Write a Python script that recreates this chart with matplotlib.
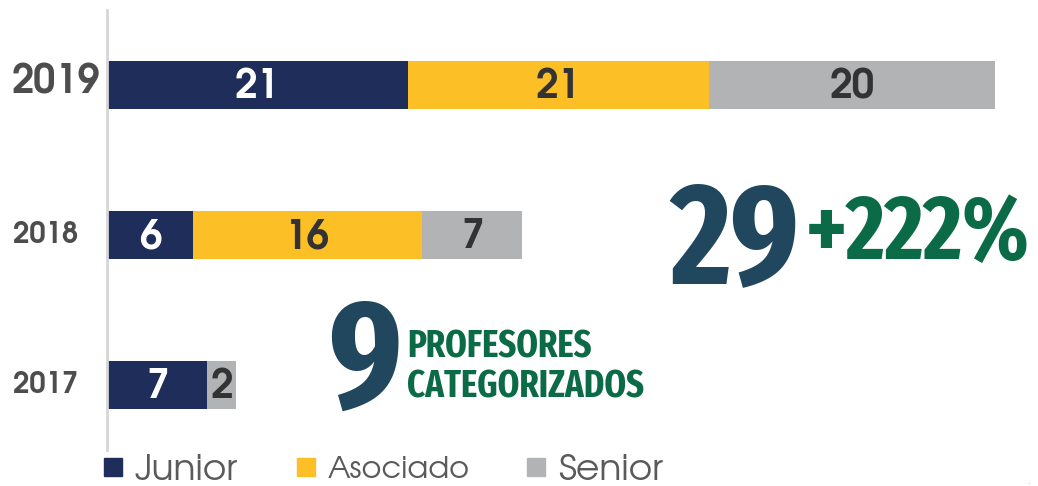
import matplotlib.pyplot as plt
import numpy as np

years = ["2017", "2018", "2019"]
junior = [7, 6, 21]
asociado = [0, 16, 21]
senior = [2, 7, 20]

colors = {"Junior": "#1f2d5a", "Asociado": "#fcbf26", "Senior": "#b1b3b4"}
label_colors = {"Junior": "white", "Asociado": "#333333", "Senior": "#333333"}

W, H = 1038, 486
fig = plt.figure(figsize=(W / 100, H / 100), dpi=100)
ax = fig.add_axes([107 / W, 36 / H, 931 / W, 440 / H])

y = np.arange(len(years))
left = np.zeros(len(years))
gothic = ["TeX Gyre Adventor", "DejaVu Sans"]
cond = ["Fira Sans Extra Condensed", "Roboto Condensed", "DejaVu Sans"]

for name, vals in [("Junior", junior), ("Asociado", asociado), ("Senior", senior)]:
    ax.barh(y, vals, left=left, height=0.32, color=colors[name], label=name)
    for yi, v, l in zip(y, vals, left):
        if v > 0:
            ax.text(l + v / 2, yi - 0.01, str(v), ha="center", va="center",
                    fontsize=29, fontweight="bold", family=gothic,
                    color=label_colors[name])
    left = left + np.array(vals)

ax.set_xlim(0, 65.0)
ax.set_ylim(-0.433, 2.5)
ax.set_xticks([])
ax.set_yticks([])
for s in ["top", "right", "bottom"]:
    ax.spines[s].set_visible(False)
ax.spines["left"].set_color("#d6d6d6")
ax.spines["left"].set_linewidth(2)

# year labels
tr = ax.get_yaxis_transform()
year_x = [-29 / 931, -29 / 931, -7 / 931]
year_size = [21, 21, 28.5]
year_dy = [0, 0, 0.02]
for yi, lab, xx, fs, dy in zip(y, years, year_x, year_size, year_dy):
    ax.text(xx, yi + dy, lab, transform=tr, ha="right", va="center",
            fontsize=fs, fontweight="bold", family=gothic, color="#4d4d4d")

# annotations
def fx(px):
    return px / W

def fy(px):
    return 1 - px / H

fig.text(fx(670), fy(283), "29", ha="left", va="baseline", fontsize=103,
         fontweight="bold", family=cond, color="#21475f")
fig.text(fx(806), fy(259), "+222%", ha="left", va="baseline", fontsize=66,
         fontweight="bold", family=cond, color="#0b6b47")
fig.text(fx(328), fy(407), "9", ha="left", va="baseline", fontsize=110,
         fontweight="bold", family=cond, color="#21475f")
fig.text(fx(407), fy(357), "PROFESORES", ha="left", va="baseline", fontsize=27,
         fontweight="bold", family=cond, color="#0b6b47")
fig.text(fx(407), fy(397), "CATEGORIZADOS", ha="left", va="baseline", fontsize=27,
         fontweight="bold", family=cond, color="#0b6b47")
fig.text(fx(1027), fy(484), ".", ha="left", va="baseline", fontsize=6, color="#999999")

# legend, one entry per box so each sits where the reference has it
entries = [("Junior", 104, 26, 0.2), ("Asociado", 297, 22, 0.32), ("Senior", 527, 26, 0.2)]
for name, x0, fs, pad in entries:
    h = plt.Line2D([], [], marker="s", linestyle="none", markersize=13,
                   color=colors[name])
    fspx = fs * 100 / 72
    leg = fig.legend([h], [name], loc="center left",
                     bbox_to_anchor=(fx(x0 + 9 - 0.4 * fspx), fy(470)),
                     frameon=False, borderpad=0, borderaxespad=0,
                     handlelength=0.8, handletextpad=pad,
                     prop={"family": gothic, "size": fs})
    leg.get_texts()[0].set_color("#5a5a5a")

fig.savefig("out.png", dpi=100)
